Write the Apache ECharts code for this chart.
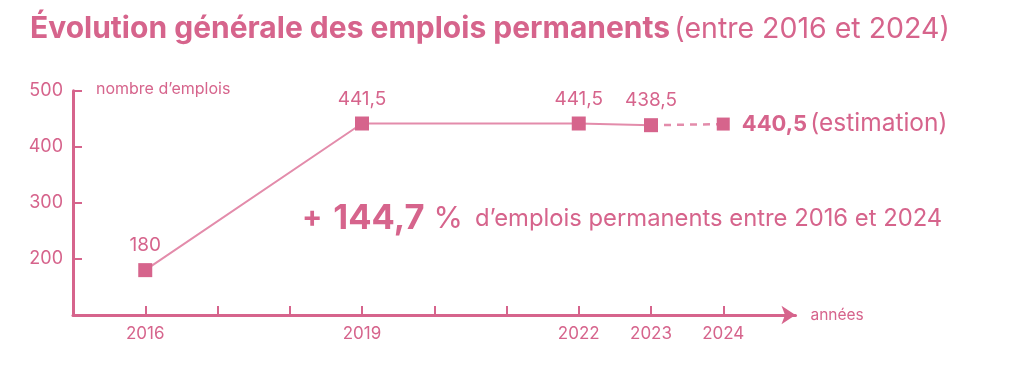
<!DOCTYPE html>
<html><head><meta charset="utf-8">
<script src="https://cdn.jsdelivr.net/npm/echarts@6/dist/echarts.min.js"></script>
<style>html,body{margin:0;padding:0;background:#fff}#c{width:1024px;height:382px}</style>
</head><body><div id="c"></div>
<script>
const years = [2016, 2019, 2022, 2023, 2024];
const values = [180, 441.5, 441.5, 438.5, 440.5];
const valueLabels = ['180', '441,5', '441,5', '438,5', '440,5'];
const estimatedFrom = 3; // index where the estimation (dashed) segment begins
const tickYears = [2016, 2017, 2018, 2019, 2020, 2021, 2022, 2023, 2024];
const labelYears = [2016, 2019, 2022, 2023, 2024];
const yTicks = [200, 300, 400, 500];

const PINK = '#d6648c';
const LINE = '#e38cab';
const FONT = 'Inter';

const solidData = years.slice(0, estimatedFrom + 1).map((y, i) => ({ value: [y, values[i]], label: { formatter: valueLabels[i] } }));
const dashedData = years.slice(estimatedFrom).map((y, k) => {
  const i = estimatedFrom + k;
  return { value: [y, values[i]], symbolSize: k === 0 ? 0 : 13 };
});

const chart = echarts.init(document.getElementById('c'), null, { renderer: 'canvas' });
chart.setOption({
  animation: false,
  textStyle: { fontFamily: FONT },
  title: {
    left: 25, top: 9,
    text: '{b|Évolution générale des emplois permanents} {r|(entre 2016 et 2024)}',
    textStyle: {
      rich: {
        b: { fontFamily: FONT, fontSize: 30, fontWeight: 'bold', color: PINK },
        r: { fontFamily: FONT, fontSize: 28.5, fontWeight: 'normal', color: PINK }
      }
    }
  },
  grid: { left: 73, right: 228.5, top: 90.7, bottom: 67 },
  xAxis: {
    type: 'value', min: 2015, max: 2025, interval: 1,
    splitLine: { show: false },
    axisLine: { show: true, lineStyle: { color: PINK, width: 3 }, symbol: ['none', 'arrow'], symbolSize: [14, 14] },
    axisTick: { show: true, inside: true, length: 9, lineStyle: { color: PINK, width: 2 }, customValues: tickYears },
    axisLabel: { color: PINK, fontSize: 17, margin: 10, fontFamily: FONT, customValues: labelYears, formatter: v => String(v) },
    name: 'années', nameLocation: 'end', nameGap: 15,
    nameTextStyle: { color: PINK, fontSize: 15.5, fontFamily: FONT, verticalAlign: 'middle' }
  },
  yAxis: {
    type: 'value', min: 100, max: 500, interval: 100,
    splitLine: { show: false },
    axisLine: { show: true, lineStyle: { color: PINK, width: 3 } },
    axisTick: { show: true, inside: true, length: 9, lineStyle: { color: PINK, width: 2 }, customValues: yTicks },
    axisLabel: { color: PINK, fontSize: 18, margin: 10, fontFamily: FONT, customValues: yTicks, formatter: v => String(v) }
  },
  series: [
    {
      type: 'line', data: solidData, symbol: 'rect', symbolSize: 14,
      lineStyle: { color: LINE, width: 2 }, itemStyle: { color: PINK },
      label: { show: true, position: 'top', distance: 8, color: PINK, fontSize: 19, fontFamily: FONT }
    },
    {
      type: 'line', data: dashedData, symbol: 'rect',
      lineStyle: { color: LINE, width: 2.5, type: [7, 6] }, itemStyle: { color: PINK },
      label: {
        show: true, position: 'right', distance: 12,
        formatter: p => p.dataIndex === 0 ? '' : '{b|' + valueLabels[years.length - 1] + '} {r|(estimation)}',
        rich: {
          b: { fontFamily: FONT, fontSize: 22, fontWeight: 'bold', color: PINK },
          r: { fontFamily: FONT, fontSize: 24.5, color: PINK }
        }
      }
    }
  ],
  graphic: [
    { type: 'text', left: 96, top: 81, style: { text: 'nombre d’emplois', fill: PINK, font: '16px ' + FONT } },
    {
      type: 'text', left: 302, top: 201,
      style: {
        text: '{p|+}{n|144,7}{c|%}{t|d’emplois permanents entre 2016 et 2024}',
        rich: {
          p: { fontFamily: FONT, fontSize: 30, fontWeight: 'bold', fill: PINK, padding: [0, 11, 3, 0], verticalAlign: 'bottom' },
          n: { fontFamily: FONT, fontSize: 34.5, fontWeight: 'bold', fill: PINK, padding: [0, 9, 0, 0] },
          c: { fontFamily: FONT, fontSize: 30, fontWeight: 'normal', fill: PINK, padding: [0, 12, 0, 0] },
          t: { fontFamily: FONT, fontSize: 23.8, fill: PINK }
        }
      }
    }
  ]
});
</script></body></html>
